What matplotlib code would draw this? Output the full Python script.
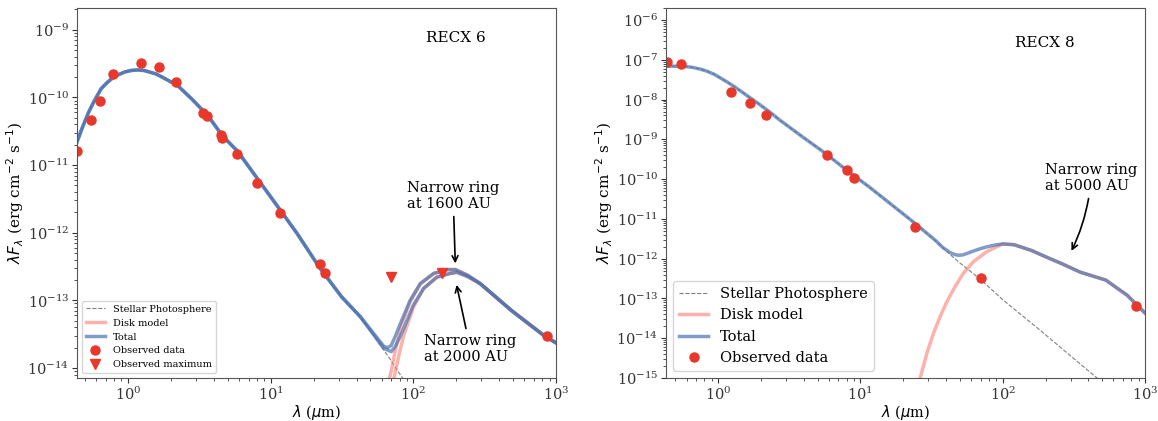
import matplotlib
matplotlib.use("Agg")
import matplotlib.pyplot as plt
import numpy as np

plt.rcParams['font.family'] = 'DejaVu Serif'
plt.rcParams['axes.edgecolor'] = '#555555'
plt.rcParams['xtick.color'] = '#333333'
plt.rcParams['ytick.color'] = '#333333'

# ---- RECX 6 ----
star6_wl = [0.44, 0.48, 0.53, 0.58, 0.65, 0.72, 0.80, 0.88, 0.95, 1.05, 1.17, 1.3, 1.57, 1.8,
            2.23, 2.8, 3.63, 4.6, 5.87, 8.0, 10.0, 15.3, 21.9, 31.5, 42.6, 55, 65, 70, 77, 85]
star6_flux = [2.2e-11, 3.6e-11, 6.0e-11, 8.8e-11, 1.35e-10, 1.68e-10, 2.02e-10, 2.22e-10,
              2.38e-10, 2.5e-10, 2.55e-10, 2.5e-10, 2.23e-10, 1.92e-10, 1.5e-10, 9.5e-11,
              5.4e-11, 2.7e-11, 1.6e-11, 6.5e-12, 3.4e-12, 9.8e-13, 3.1e-13, 1.12e-13,
              5.7e-14, 2.65e-14, 1.6e-14, 1.28e-14, 9.3e-15, 6.9e-15]

# ring at 1600 AU
tot6a_wl = [62, 66, 70, 75, 81, 88, 95, 112, 139, 172, 197, 240, 294, 490, 817, 1000]
tot6a_flux = [2.1e-14, 2.0e-14, 2.15e-14, 3.0e-14, 4.5e-14, 6.8e-14, 1.0e-13, 1.77e-13,
              2.5e-13, 2.85e-13, 2.85e-13, 2.35e-13, 1.77e-13, 7.0e-14, 3.05e-14, 2.35e-14]
disk6a_wl = [62, 66, 70, 75, 81, 88, 95, 112, 139, 172, 197, 240, 294, 490, 817, 1000]
disk6a_flux = [3e-15, 5.5e-15, 9e-15, 1.9e-14, 3.7e-14, 6.2e-14, 9.6e-14, 1.77e-13, 2.5e-13,
               2.85e-13, 2.85e-13, 2.35e-13, 1.77e-13, 7.0e-14, 3.05e-14, 2.35e-14]

# ring at 2000 AU
tot6b_wl = [62, 70, 75, 80, 85.5, 100, 118, 146, 181, 202, 240, 294, 490, 817, 1000]
tot6b_flux = [1.95e-14, 1.75e-14, 2.1e-14, 2.8e-14, 3.8e-14, 8.5e-14, 1.5e-13, 2.2e-13,
              2.5e-13, 2.6e-13, 2.25e-13, 1.77e-13, 7.0e-14, 3.05e-14, 2.35e-14]
disk6b_wl = [66, 70, 75, 80, 85.5, 100, 118, 146, 181, 202, 240, 294, 490, 817, 1000]
disk6b_flux = [2.5e-15, 4.5e-15, 9e-15, 1.7e-14, 3.0e-14, 7.9e-14, 1.5e-13, 2.2e-13, 2.5e-13,
               2.6e-13, 2.25e-13, 1.77e-13, 7.0e-14, 3.05e-14, 2.35e-14]

obs6_wl = [0.44, 0.55, 0.64, 0.79, 1.235, 1.662, 2.159, 3.35, 3.6, 4.5, 4.6, 5.8, 8.0,
           11.6, 22.1, 24, 870]
obs6_flux = [1.6e-11, 4.7e-11, 8.8e-11, 2.19e-10, 3.2e-10, 2.8e-10, 1.72e-10, 5.9e-11,
             5.4e-11, 2.8e-11, 2.54e-11, 1.47e-11, 5.5e-12, 1.98e-12, 3.48e-13, 2.5e-13,
             2.95e-14]
upper6_wl = [70, 160]
upper6_flux = [2.2e-13, 2.5e-13]

# ---- RECX 8 ----
star8_wl = [0.43, 0.5, 0.58, 0.65, 0.74, 0.83, 0.94, 1.05, 1.18, 1.33, 1.6, 1.91, 2.3, 2.73,
            3.91, 5.6, 8.0, 11.5, 16.4, 23.5, 33.6, 42.6, 50, 70, 100, 183, 300, 450, 500]
star8_flux = [6.9e-8, 6.9e-8, 6.8e-8, 6.5e-8, 5.9e-8, 5.2e-8, 4.3e-8, 3.4e-8, 2.65e-8,
              2.0e-8, 1.25e-8, 8.0e-9, 4.9e-9, 3.0e-9, 1.16e-9, 4.6e-10, 1.68e-10,
              6.4e-11, 2.34e-11, 8.4e-12, 2.85e-12, 1.28e-12, 7.8e-13, 3.0e-13, 9.3e-14,
              1.6e-14, 3.6e-15, 1.07e-15, 7.8e-16]
tot8_wl = [33.6, 38, 42.8, 46, 48.9, 52, 55, 62, 70, 78, 88, 100, 120, 160, 215, 260, 350,
           530, 750, 1000]
tot8_flux = [2.9e-12, 1.9e-12, 1.42e-12, 1.27e-12, 1.22e-12, 1.24e-12, 1.32e-12, 1.55e-12,
             1.8e-12, 2.0e-12, 2.2e-12, 2.35e-12, 2.25e-12, 1.6e-12, 1.0e-12, 7.5e-13,
             4.6e-13, 2.9e-13, 1.2e-13, 4.3e-14]
disk8_wl = [26.3, 29.3, 32.6, 36.3, 40.5, 46.3, 52.9, 62.2, 77.3, 96, 100, 120, 160, 215,
            260, 350, 530, 750, 1000]
disk8_flux = [1e-15, 4.2e-15, 1.33e-14, 3.5e-14, 8.3e-14, 2.0e-13, 4.3e-13, 8.4e-13, 1.5e-12,
              2.2e-12, 2.35e-12, 2.25e-12, 1.6e-12, 1.0e-12, 7.5e-13, 4.6e-13, 2.9e-13,
              1.2e-13, 4.3e-14]
obs8_wl = [0.44, 0.55, 1.235, 1.662, 2.159, 5.8, 8.0, 9.0, 24, 70, 870]
obs8_flux = [8.9e-8, 7.8e-8, 1.58e-8, 8.3e-9, 4.0e-9, 4.1e-10, 1.65e-10, 1.08e-10, 6.4e-12,
             3.3e-13, 6.3e-14]

blue = '#4c72b0'
salmon = '#fa8072'
red = '#e8382c'

fig = plt.figure(figsize=(11.58, 4.21), dpi=100)
ax1 = fig.add_axes([0.0665, 0.102, 0.4137, 0.879])
ax2 = fig.add_axes([0.5751, 0.102, 0.4137, 0.879])

# stellar part of the total is the photosphere itself, up to where the disk takes over
n6 = star6_wl.index(55)
n8 = star8_wl.index(33.6)

# left panel
ax1.plot(star6_wl, star6_flux, '--', color='gray', lw=0.8, label='Stellar Photosphere')
ax1.plot(disk6a_wl, disk6a_flux, color=salmon, lw=2.5, alpha=0.6, label='Disk model')
ax1.plot(disk6b_wl, disk6b_flux, color=salmon, lw=2.5, alpha=0.6)
ax1.plot(star6_wl[:n6] + tot6a_wl, star6_flux[:n6] + tot6a_flux, color=blue, lw=2.5,
         alpha=0.7, label='Total')
ax1.plot(star6_wl[:n6] + tot6b_wl, star6_flux[:n6] + tot6b_flux, color=blue, lw=2.5,
         alpha=0.7)
ax1.plot(obs6_wl, obs6_flux, 'o', color=red, ms=6.5, label='Observed data')
ax1.plot(upper6_wl, upper6_flux, 'v', color=red, ms=6.5, label='Observed maximum')

ax1.set_xscale('log')
ax1.set_yscale('log')
ax1.set_xlim(0.44, 1000)
ax1.set_ylim(7.1e-15, 2.1e-9)
ax1.text(0.79, 0.92, 'RECX 6', transform=ax1.transAxes, ha='center', va='center', fontsize=11)
ax1.annotate('Narrow ring\nat 1600 AU', xy=(197, 3.2e-13), xytext=(190, 3.5e-12),
             ha='center', va='center', multialignment='left', fontsize=10.5,
             arrowprops=dict(arrowstyle='->', color='black', lw=1.2))
ax1.annotate('Narrow ring\nat 2000 AU', xy=(199, 1.86e-13), xytext=(251, 1.9e-14),
             ha='center', va='center', multialignment='left', fontsize=10.5,
             arrowprops=dict(arrowstyle='->', color='black', lw=1.2))
ax1.legend(loc='lower left', fontsize=7)

# right panel
ax2.plot(star8_wl, star8_flux, '--', color='gray', lw=0.8, label='Stellar Photosphere')
ax2.plot(disk8_wl, disk8_flux, color=salmon, lw=2.5, alpha=0.6, label='Disk model')
ax2.plot(star8_wl[:n8] + tot8_wl, star8_flux[:n8] + tot8_flux, color=blue, lw=2.5,
         alpha=0.7, label='Total')
ax2.plot(obs8_wl, obs8_flux, 'o', color=red, ms=6.5, label='Observed data')

ax2.set_xscale('log')
ax2.set_yscale('log')
ax2.set_xlim(0.43, 1000)
ax2.set_ylim(1e-15, 2e-6)
ax2.text(0.79, 0.905, 'RECX 8', transform=ax2.transAxes, ha='center', va='center', fontsize=11)
ax2.annotate('Narrow ring\nat 5000 AU', xy=(298, 1.36e-12), xytext=(418, 1.07e-10),
             ha='center', va='center', multialignment='left', fontsize=10.5,
             arrowprops=dict(arrowstyle='->', color='black', lw=1.2,
                             connectionstyle='arc3,rad=-0.1'))
ax2.legend(loc='lower left', fontsize=10.5)

for ax in (ax1, ax2):
    ax.set_xlabel(r'$\lambda$ ($\mu$m)', fontsize=10.5, labelpad=0)
    ax.set_ylabel(r'$\lambda F_{\lambda}$ (erg cm$^{-2}$ s$^{-1}$)', fontsize=11, labelpad=1)
    ax.tick_params(labelsize=10.5, pad=2)
    ax.yaxis.set_major_locator(matplotlib.ticker.LogLocator(base=10, numticks=20))
    ax.yaxis.set_minor_locator(matplotlib.ticker.LogLocator(base=10, subs=np.arange(2, 10), numticks=20))

fig.savefig('out.png', dpi=100)
